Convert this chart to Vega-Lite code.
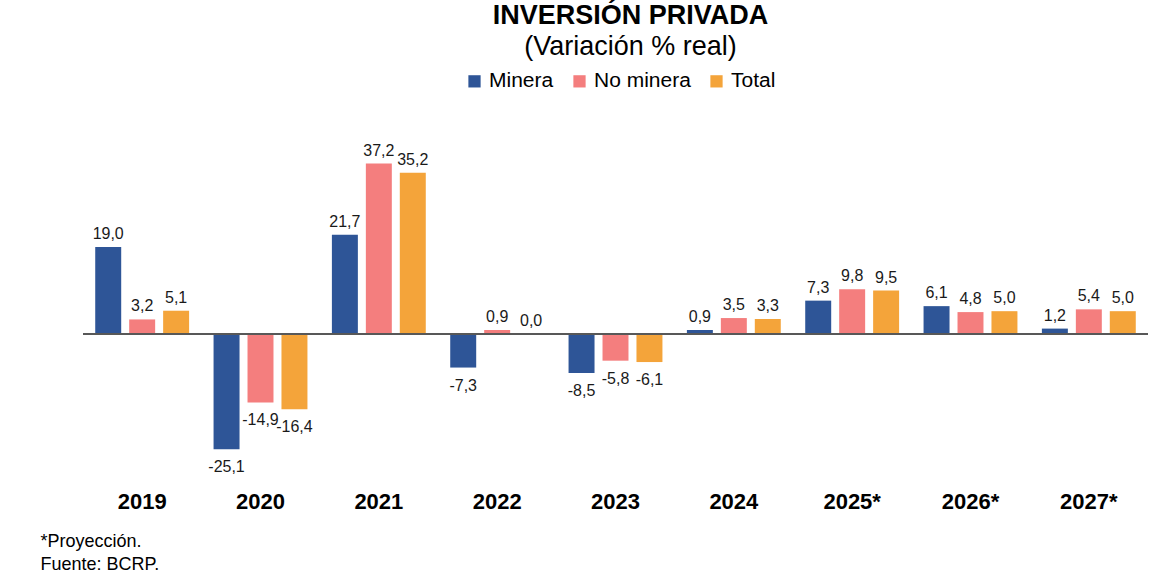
{
  "$schema": "https://vega.github.io/schema/vega-lite/v6.json",
  "autosize": {"type": "none"},
  "padding": {"left": 83, "top": 141.6, "right": 28, "bottom": 116},
  "width": 1065,
  "height": 330,
  "background": "#ffffff",
  "title": {
    "text": "INVERSIÓN PRIVADA",
    "subtitle": "(Variación % real)",
    "anchor": "middle",
    "dx": 15,
    "font": "Liberation Sans",
    "fontSize": 27,
    "fontWeight": "bold",
    "color": "#000000",
    "subtitleFont": "Liberation Sans",
    "subtitleFontSize": 27,
    "subtitleColor": "#000000",
    "subtitlePadding": 4,
    "offset": 10
  },
  "data": {
    "values": [
      {"anio": "2019", "serie": "Minera", "v": 19.0},
      {"anio": "2019", "serie": "No minera", "v": 3.2},
      {"anio": "2019", "serie": "Total", "v": 5.1},
      {"anio": "2020", "serie": "Minera", "v": -25.1},
      {"anio": "2020", "serie": "No minera", "v": -14.9},
      {"anio": "2020", "serie": "Total", "v": -16.4},
      {"anio": "2021", "serie": "Minera", "v": 21.7},
      {"anio": "2021", "serie": "No minera", "v": 37.2},
      {"anio": "2021", "serie": "Total", "v": 35.2},
      {"anio": "2022", "serie": "Minera", "v": -7.3},
      {"anio": "2022", "serie": "No minera", "v": 0.9},
      {"anio": "2022", "serie": "Total", "v": 0.0},
      {"anio": "2023", "serie": "Minera", "v": -8.5},
      {"anio": "2023", "serie": "No minera", "v": -5.8},
      {"anio": "2023", "serie": "Total", "v": -6.1},
      {"anio": "2024", "serie": "Minera", "v": 0.9},
      {"anio": "2024", "serie": "No minera", "v": 3.5},
      {"anio": "2024", "serie": "Total", "v": 3.3},
      {"anio": "2025*", "serie": "Minera", "v": 7.3},
      {"anio": "2025*", "serie": "No minera", "v": 9.8},
      {"anio": "2025*", "serie": "Total", "v": 9.5},
      {"anio": "2026*", "serie": "Minera", "v": 6.1},
      {"anio": "2026*", "serie": "No minera", "v": 4.8},
      {"anio": "2026*", "serie": "Total", "v": 5.0},
      {"anio": "2027*", "serie": "Minera", "v": 1.2},
      {"anio": "2027*", "serie": "No minera", "v": 5.4},
      {"anio": "2027*", "serie": "Total", "v": 5.0}
    ]
  },
  "encoding": {
    "x": {
      "field": "anio",
      "type": "nominal",
      "sort": null,
      "scale": {"paddingInner": 0, "paddingOuter": 0},
      "axis": {
        "title": ["*Proyección.", "Fuente: BCRP."],
        "titleFont": "Liberation Sans",
        "titleFontSize": 18,
        "titleFontWeight": "normal",
        "titleColor": "#000000",
        "titleAnchor": "start",
        "titleAlign": "left",
        "titleBaseline": "alphabetic",
        "titleX": -43,
        "titleY": 75,
        "titleLineHeight": 23,
        "labelAngle": 0,
        "labelFont": "Liberation Sans",
        "labelFontSize": 22,
        "labelFontWeight": "bold",
        "labelColor": "#000000",
        "labelPadding": 20,
        "domain": false,
        "ticks": false,
        "grid": false
      }
    },
    "xOffset": {
      "field": "serie",
      "type": "nominal",
      "scale": {"paddingInner": 0.235, "paddingOuter": 0.36}
    },
    "y": {
      "field": "v",
      "type": "quantitative",
      "scale": {"domain": [-30, 42], "nice": false},
      "axis": null
    }
  },
  "layer": [
    {
      "mark": {"type": "bar"},
      "encoding": {
        "color": {
          "field": "serie",
          "type": "nominal",
          "scale": {
            "domain": ["Minera", "No minera", "Total"],
            "range": ["#2E5597", "#F47E7E", "#F4A43A"]
          },
          "legend": {
            "title": null,
            "orient": "none",
            "direction": "horizontal",
            "legendX": 381,
            "legendY": -71,
            "symbolType": "square",
            "symbolSize": 150,
            "symbolStrokeWidth": 0,
            "labelFont": "Liberation Sans",
            "labelFontSize": 21,
            "labelColor": "#000000",
            "labelOffset": 4,
            "columnPadding": 15
          }
        }
      }
    },
    {
      "mark": {"type": "rule", "color": "#595959", "strokeWidth": 1.2},
      "encoding": {"y": {"datum": 0}, "x": null, "xOffset": null}
    },
    {
      "transform": [{"filter": "datum.v >= 0"}],
      "mark": {
        "type": "text",
        "baseline": "alphabetic",
        "dy": -8,
        "font": "Liberation Sans",
        "fontSize": 16,
        "color": "#1a1a1a"
      },
      "encoding": {"text": {"field": "v", "type": "quantitative", "format": ".1f"}}
    },
    {
      "transform": [{"filter": "datum.v < 0"}],
      "mark": {
        "type": "text",
        "baseline": "top",
        "dy": 10,
        "font": "Liberation Sans",
        "fontSize": 16,
        "color": "#1a1a1a"
      },
      "encoding": {"text": {"field": "v", "type": "quantitative", "format": ".1f"}}
    }
  ],
  "config": {
    "view": {"stroke": null},
    "locale": {
      "number": {
        "decimal": ",",
        "thousands": ".",
        "grouping": [3],
        "currency": ["", ""],
        "minus": "-"
      }
    }
  }
}
